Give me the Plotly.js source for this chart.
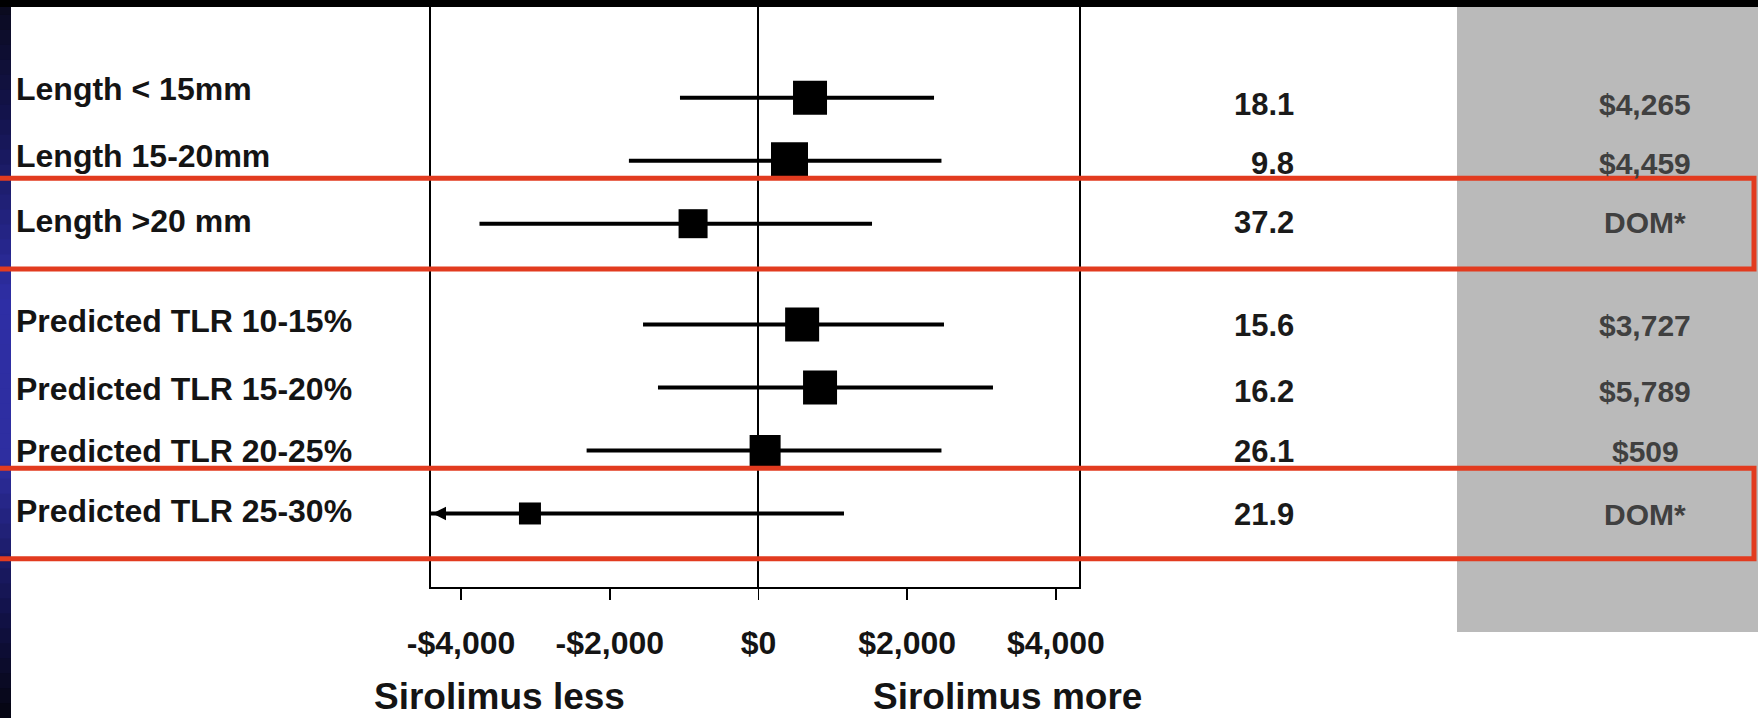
<!DOCTYPE html>
<html>
<head>
<meta charset="utf-8">
<script src="https://cdn.plot.ly/plotly-3.0.1.min.js"></script>
<style>
  html, body { margin: 0; padding: 0; background: #ffffff; }
  #chart { width: 1758px; height: 718px; }
</style>
</head>
<body>
<div id="chart"></div>
<script>
// ---------------- DATA ----------------
const rowLabels = [
  'Length < 15mm',
  'Length 15-20mm',
  'Length >20 mm',
  'Predicted TLR 10-15%',
  'Predicted TLR 15-20%',
  'Predicted TLR 20-25%',
  'Predicted TLR 25-30%'
];
const rowGroup = [0, 0, 0, 1, 1, 1, 1];
const estimates = [693, 417, -880, 587, 828, 89, -3074];
const ciLow     = [-1056, -1743, -3753, -1553, -1352, -2312, null]; // null = beyond axis (arrow)
const ciHigh    = [2361, 2461, 1527, 2495, 3154, 2461, 1150];
const col2Values = ['18.1', '9.8', '37.2', '15.6', '16.2', '26.1', '21.9'];
const col3Values = ['$4,265', '$4,459', 'DOM*', '$3,727', '$5,789', '$509', 'DOM*'];
const highlightedRows = [2, 6];
const tickValues = [-4000, -2000, 0, 2000, 4000];
const tickLabels = ['-$4,000', '-$2,000', '$0', '$2,000', '$4,000'];
const axisTitleLeft = 'Sirolimus less';
const axisTitleRight = 'Sirolimus more';

// ---------------- STYLE / LAYOUT ----------------
const W = 1758, H = 718;
const M = { l: 431, r: 679, t: 0, b: 131 };
const plotW = W - M.l - M.r, plotH = H - M.t - M.b;
const xRange = [-4405, 4311];
const yRange = [7.767, -1.551];
const groupGap = 0.6;
const boxSizes = [34, 37, 29, 34, 34, 31, 22];
// small per-row vertical nudges of the text (pixels, + = up), as set in the original slide
const labelShift = [9, 5, 3, 3.5, -1.5, -0.5, 2.5];
const numShift = [-7, -3, 1, -1.5, -4, -1, -1.5];
const FONT = 'Liberation Sans, Arial, Helvetica, sans-serif';
const RED = '#e23b1f';

const yPos = rowLabels.map((_, i) => i + rowGroup[i] * groupGap);
const px2paperX = px => (px - M.l) / plotW;
const py2paperY = py => (M.t + plotH - py) / plotH;

const lowDrawn = ciLow.map(v => (v === null ? xRange[0] : v));

const trace = {
  type: 'scatter',
  mode: 'markers',
  x: estimates,
  y: yPos,
  marker: { symbol: 'square', size: boxSizes, color: '#000000', opacity: 1, line: { width: 0 } },
  error_x: {
    type: 'data',
    symmetric: false,
    array: ciHigh.map((h, i) => h - estimates[i]),
    arrayminus: lowDrawn.map((l, i) => estimates[i] - l),
    color: '#000000',
    thickness: 4,
    width: 0
  },
  cliponaxis: false,
  hoverinfo: 'skip',
  showlegend: false
};

const annotations = [];
rowLabels.forEach((lab, i) => {
  annotations.push({
    xref: 'paper', yref: 'y', x: px2paperX(14), y: yPos[i], xanchor: 'left', yanchor: 'middle',
    text: lab, showarrow: false, yshift: labelShift[i],
    font: { family: FONT, size: 32, color: '#141414', weight: 'bold' }
  });
  annotations.push({
    xref: 'paper', yref: 'y', x: px2paperX(1296), y: yPos[i], xanchor: 'right', yanchor: 'middle',
    text: col2Values[i], showarrow: false, yshift: numShift[i],
    font: { family: FONT, size: 31, color: '#1a1a1a', weight: 'bold' }
  });
  annotations.push({
    xref: 'paper', yref: 'y', x: px2paperX(1645), y: yPos[i], xanchor: 'center', yanchor: 'middle',
    text: col3Values[i], showarrow: false, yshift: numShift[i],
    font: { family: FONT, size: 30, color: '#404040', weight: 'bold' }
  });
  if (ciLow[i] === null) {
    annotations.push({
      xref: 'x', yref: 'y', axref: 'x', ayref: 'y',
      x: xRange[0] + 20, y: yPos[i], ax: estimates[i], ay: yPos[i],
      text: '', showarrow: true, arrowhead: 2, arrowsize: 0.9, arrowwidth: 3,
      arrowcolor: '#000000', standoff: 0, startstandoff: 0
    });
  }
});
annotations.push({
  xref: 'paper', yref: 'paper', x: px2paperX(499), y: py2paperY(696), xanchor: 'center', yanchor: 'middle',
  text: axisTitleLeft, showarrow: false,
  font: { family: FONT, size: 37, color: '#141414', weight: 'bold' }
});
annotations.push({
  xref: 'paper', yref: 'paper', x: px2paperX(1007), y: py2paperY(696), xanchor: 'center', yanchor: 'middle',
  text: axisTitleRight, showarrow: false,
  font: { family: FONT, size: 37, color: '#141414', weight: 'bold' }
});

const shapes = [];
// grey column
shapes.push({
  type: 'rect', xref: 'paper', yref: 'paper', layer: 'below',
  x0: px2paperX(1457), x1: px2paperX(W + 5), y0: py2paperY(632), y1: py2paperY(-5),
  fillcolor: '#bababa', line: { width: 0 }
});
// left blue gradient band
const bandStops = [
  [0, [10, 10, 28]], [120, [20, 20, 78]], [300, [46, 46, 165]], [460, [46, 46, 160]],
  [600, [20, 20, 80]], [718, [5, 5, 16]]
];
function bandColor(py) {
  for (let k = 0; k < bandStops.length - 1; k++) {
    const [a, ca] = bandStops[k], [b, cb] = bandStops[k + 1];
    if (py >= a && py <= b) {
      const t = (py - a) / (b - a);
      return 'rgb(' + ca.map((c, j) => Math.round(c + (cb[j] - c) * t)).join(',') + ')';
    }
  }
  return 'rgb(5,5,16)';
}
const nStrips = 48;
for (let s = 0; s < nStrips; s++) {
  const pyA = s * H / nStrips, pyB = (s + 1) * H / nStrips + 1;
  shapes.push({
    type: 'rect', xref: 'paper', yref: 'paper', layer: 'above',
    x0: px2paperX(-2), x1: px2paperX(11), y0: py2paperY(pyB), y1: py2paperY(pyA),
    fillcolor: bandColor((pyA + pyB) / 2), line: { width: 0 }
  });
}
// top black band
shapes.push({
  type: 'rect', xref: 'paper', yref: 'paper', layer: 'above',
  x0: px2paperX(-5), x1: px2paperX(W + 5), y0: py2paperY(7), y1: py2paperY(-5),
  fillcolor: '#000000', line: { width: 0 }
});
// red highlight boxes
highlightedRows.forEach(r => {
  shapes.push({
    type: 'rect', xref: 'paper', yref: 'y', layer: 'above',
    x0: px2paperX(-10), x1: px2paperX(1754), y0: yPos[r] - 0.72, y1: yPos[r] + 0.72,
    line: { color: RED, width: 5 }, fillcolor: 'rgba(0,0,0,0)'
  });
});

const layout = {
  width: W, height: H,
  margin: M,
  paper_bgcolor: '#ffffff',
  plot_bgcolor: '#ffffff',
  showlegend: false,
  xaxis: {
    range: xRange, fixedrange: true,
    tickmode: 'array', tickvals: tickValues, ticktext: tickLabels,
    ticks: 'outside', ticklen: 11, tickwidth: 1.5, tickcolor: '#000000',
    ticklabelstandoff: 16,
    tickfont: { family: FONT, size: 32, color: '#141414', weight: 'bold' },
    showgrid: false,
    zeroline: true, zerolinecolor: '#000000', zerolinewidth: 2,
    showline: true, linecolor: '#000000', linewidth: 2, mirror: true
  },
  yaxis: {
    range: yRange, fixedrange: true,
    showticklabels: false, ticks: '', showgrid: false, zeroline: false,
    showline: true, linecolor: '#000000', linewidth: 2, mirror: true
  },
  shapes: shapes,
  annotations: annotations
};

Plotly.newPlot('chart', [trace], layout, { displayModeBar: false, staticPlot: true });
</script>
</body>
</html>
